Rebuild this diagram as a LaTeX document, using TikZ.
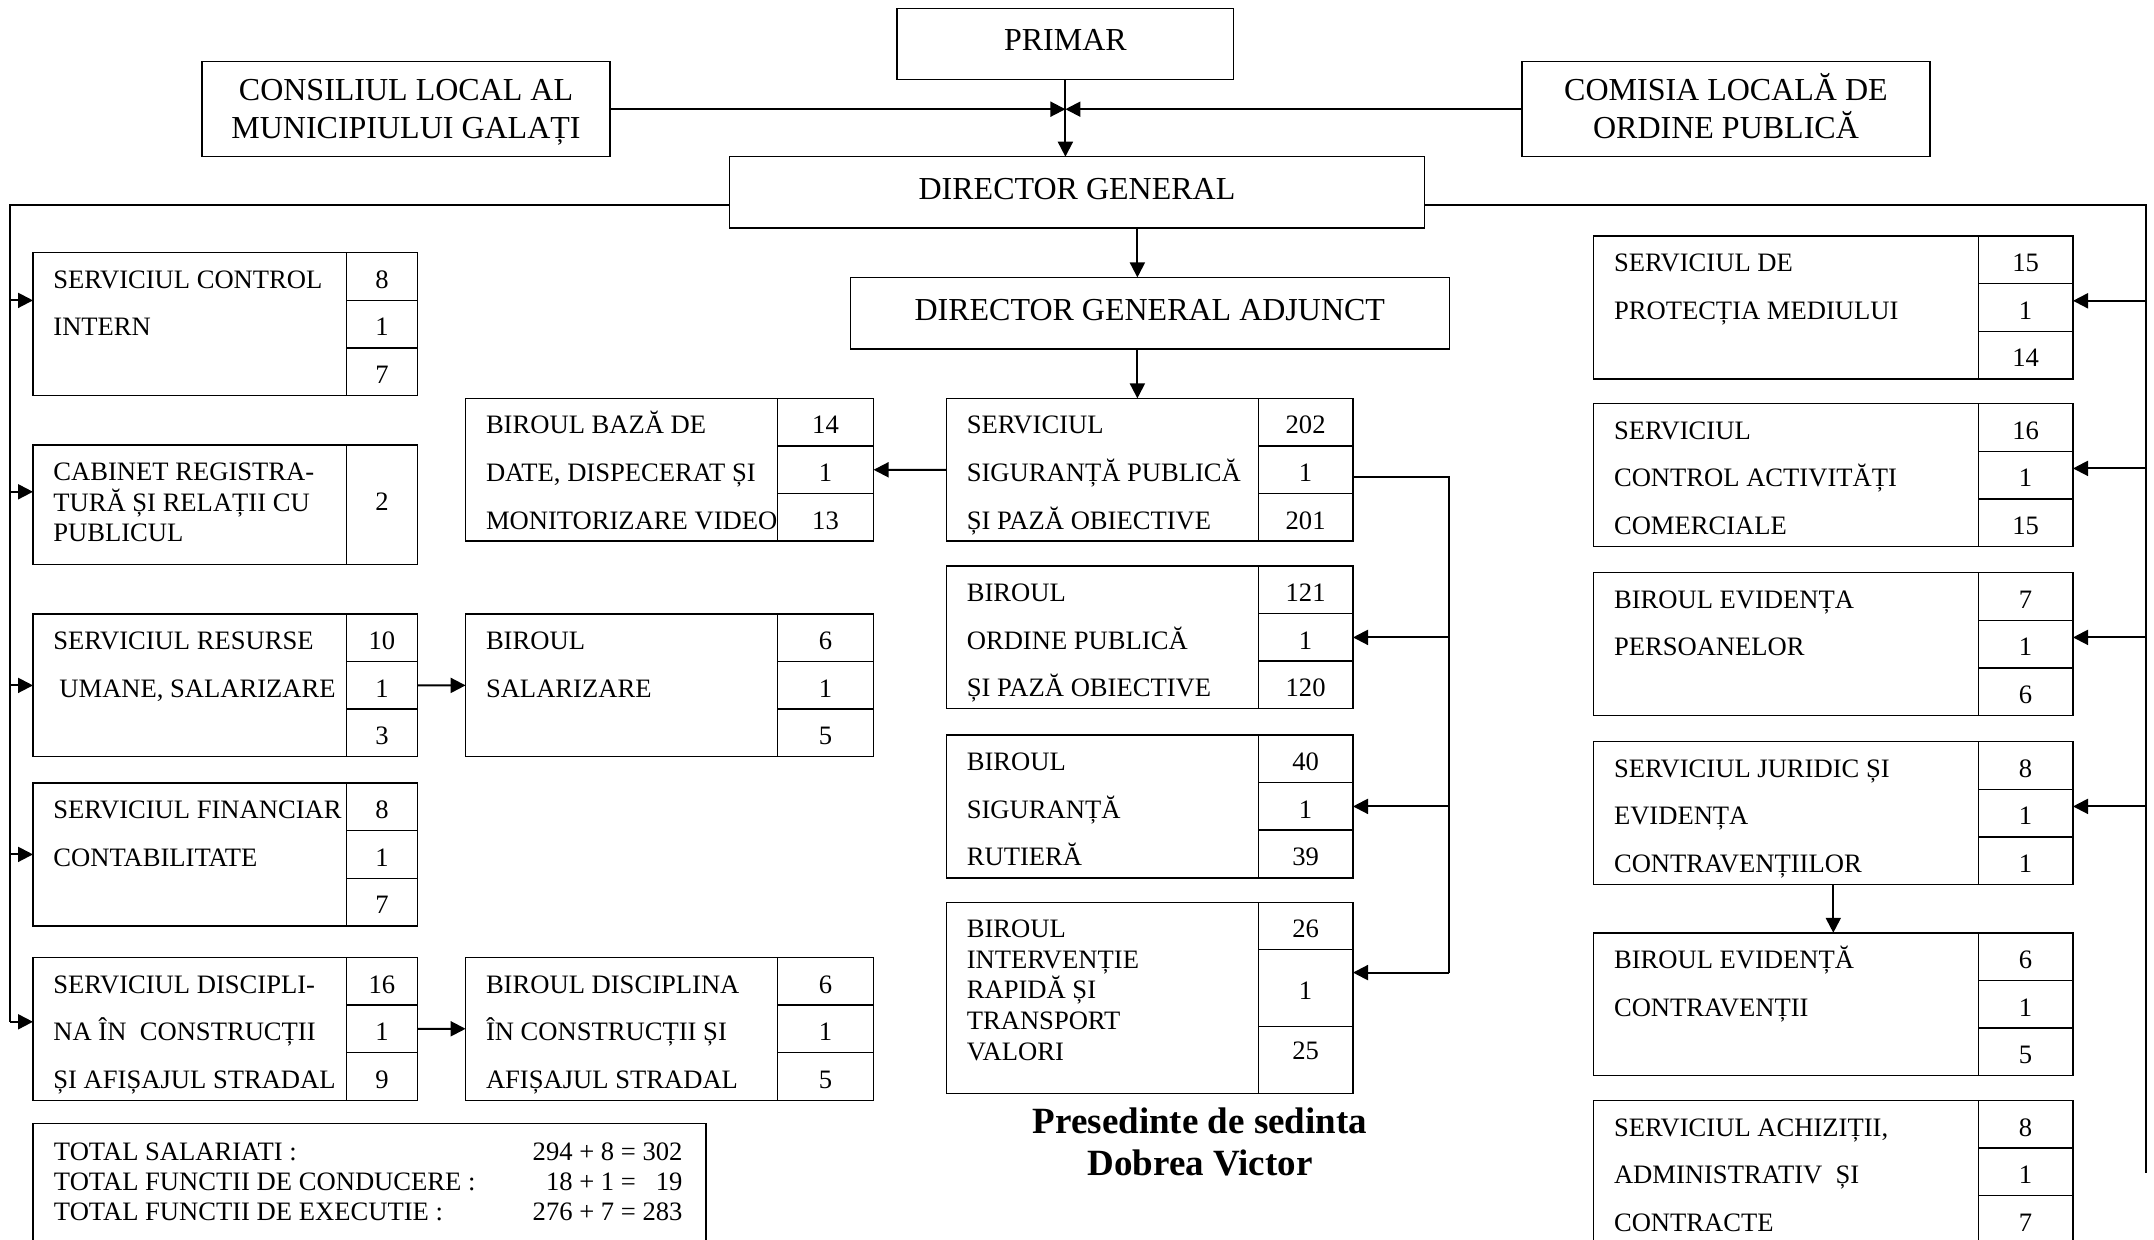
\documentclass[tikz,border=0pt]{standalone}
\usepackage{fontspec}
\setmainfont{Liberation Serif}
\usetikzlibrary{arrows.meta, calc, positioning}

\newcommand{\boxfont}{\fontsize{13.3}{15.3}\selectfont}
\newcommand{\headfont}{\fontsize{16}{19.3}\selectfont}

\tikzset{
  cell/.style={draw, line width=0.7pt, inner sep=0pt, outer sep=0pt, text height=11.8pt, text depth=0pt, font=\boxfont},
  head/.style={draw, line width=0.7pt, inner sep=0pt, outer sep=0pt, align=center, font=\headfont},
  onehead/.style={head, text height=11pt, text depth=4pt},
  txt/.style={inner sep=0pt, anchor=west, text height=11.8pt, text depth=0pt, font=\boxfont},
  line/.style={line width=1pt},
  arr/.style={line width=1pt, -{Triangle[length=7.5pt,width=7.5pt]}},
}

% box with name part and three number cells
\newcommand{\compart}[9]{%
  \node[cell, anchor=north west, minimum width=#4pt, minimum height=71.4pt] (#1) at (#2,#3) {};
  \node[cell, anchor=north west, minimum width=#5pt, minimum height=23.8pt] (#1-a) at (#1.north east) {#6};
  \node[cell, anchor=north west, minimum width=#5pt, minimum height=23.8pt] (#1-b) at (#1-a.south west) {#7};
  \node[cell, anchor=north west, minimum width=#5pt, minimum height=23.8pt] (#1-c) at (#1-b.south west) {#8};
  \foreach \txtline [count=\i] in {#9}
    \node[txt] (#1-l\i) at ({#2+10},{#3+(\i-0.5)*23.8}) {\txtline};
}

\begin{document}
\begin{tikzpicture}[x=1pt, y=-1pt]
\useasboundingbox (0,0) rectangle (1077,620);
\clip (0,0) rectangle (1077,620);

% top
\node[onehead, minimum width=168.3pt, minimum height=35.7pt] (primar) at (532.7,22) {PRIMAR};
\node[head, minimum width=204pt, minimum height=47.4pt] (consiliul) at (203,54.6) {\vphantom{ĂȚ}CONSILIUL LOCAL AL\\\vphantom{ĂȚ}MUNICIPIULUI GALAȚI};
\node[head, minimum width=204pt, minimum height=47.4pt] (comisia) at (863,54.6) {\vphantom{ĂȚ}COMISIA LOCALĂ DE\\\vphantom{ĂȚ}ORDINE PUBLICĂ};
\node[onehead, minimum width=347.6pt, minimum height=35.7pt] (dg) at (538.5,96.2) {DIRECTOR GENERAL};
\node[onehead, minimum width=299.4pt, minimum height=35.8pt] (dga) at (574.9,156.6) {DIRECTOR GENERAL ADJUNCT};

\draw[arr] (primar.south) -- (primar.south |- dg.north);
\draw[arr] (consiliul.east) -- (consiliul.east -| primar.south);
\draw[arr] (comisia.west) -- (comisia.west -| primar.south);

% left column
\compart{sci}{16.5}{126.4}{156.6}{35.7}{8}{1}{7}{SERVICIUL CONTROL, INTERN}
\node[cell, anchor=north west, minimum width=156.6pt, minimum height=59.8pt] (cab) at (16.5,222.5) {};
\node[cell, anchor=north west, minimum width=35.7pt, minimum height=59.8pt, text height=8.8pt, text depth=3.4pt] (cab-a) at (cab.north east) {2};
\foreach \txtline [count=\i] in {CABINET REGISTRA-, TURĂ ȘI RELAȚII CU, PUBLICUL}
  \node[txt] (cab-l\i) at ({16.5+10},{222.5+11.8+(\i-1)*15.4}) {\txtline};
\compart{sru}{16.5}{307}{156.6}{35.7}{10}{1}{3}{SERVICIUL RESURSE, {\hspace{3pt}UMANE, SALARIZARE}}
\compart{sfc}{16.5}{391.5}{156.6}{35.7}{8}{1}{7}{SERVICIUL FINANCIAR, CONTABILITATE}
\compart{sdc}{16.5}{478.7}{156.6}{35.7}{16}{1}{9}{SERVICIUL DISCIPLI-, NA ÎN~ CONSTRUCȚII, ȘI AFIȘAJUL STRADAL}

% second column
\compart{bbd}{232.8}{199.2}{155.9}{48.1}{14}{1}{13}{BIROUL BAZĂ DE, {DATE, DISPECERAT ȘI}, MONITORIZARE VIDEO}
\compart{bsal}{232.8}{307}{155.9}{48.1}{6}{1}{5}{BIROUL, SALARIZARE}
\compart{bdis}{232.8}{478.7}{155.9}{48.1}{6}{1}{5}{BIROUL DISCIPLINA, ÎN CONSTRUCȚII ȘI, AFIȘAJUL STRADAL}

% center column
\compart{ssp}{473.2}{199.2}{155.9}{47.4}{202}{1}{201}{SERVICIUL, SIGURANȚĂ PUBLICĂ, ȘI PAZĂ OBIECTIVE}
\compart{bop}{473.2}{283}{155.9}{47.4}{121}{1}{120}{BIROUL, ORDINE PUBLICĂ, ȘI PAZĂ OBIECTIVE}
\compart{bsr}{473.2}{367.5}{155.9}{47.4}{40}{1}{39}{BIROUL, SIGURANȚĂ, RUTIERĂ}
\node[cell, anchor=north west, minimum width=155.9pt, minimum height=95.4pt] (bir) at (473.2,451.3) {};
\node[cell, anchor=north west, minimum width=47.4pt, minimum height=23.3pt] (bir-a) at (bir.north east) {26};
\node[cell, anchor=north west, minimum width=47.4pt, minimum height=38.5pt] (bir-b) at (bir-a.south west) {1};
\node[cell, anchor=north west, minimum width=47.4pt, minimum height=33.6pt, text height=8.8pt, text depth=9pt] (bir-c) at (bir-b.south west) {25};
\foreach \txtline [count=\i] in {BIROUL, INTERVENȚIE, RAPIDĂ ȘI, TRANSPORT, VALORI}
  \node[txt] (bir-l\i) at ({473.2+10},{451.3+11.6+(\i-1)*15.3}) {\txtline};

% right column
\compart{spm}{796.8}{118.1}{192.3}{47.4}{15}{1}{14}{SERVICIUL DE, PROTECȚIA MEDIULUI}
\compart{sca}{796.8}{201.9}{192.3}{47.4}{16}{1}{15}{SERVICIUL, CONTROL ACTIVITĂȚI, COMERCIALE}
\compart{bep}{796.8}{286.4}{192.3}{47.4}{7}{1}{6}{BIROUL EVIDENȚA, PERSOANELOR}
\compart{sj}{796.8}{370.9}{192.3}{47.4}{8}{1}{1}{SERVICIUL JURIDIC ȘI, EVIDENȚA, CONTRAVENȚIILOR}
\compart{bec}{796.8}{466.4}{192.3}{47.4}{6}{1}{5}{BIROUL EVIDENȚĂ, CONTRAVENȚII}
\compart{sac}{796.8}{550.2}{192.3}{47.4}{8}{1}{7}{{SERVICIUL ACHIZIȚII,}, ADMINISTRATIV~ ȘI, CONTRACTE}

% buses
\coordinate (lbus) at (4.8,102.3);
\coordinate (rbus) at (1072.9,102.3);
\coordinate (rend) at (1072.9,586.6);
\coordinate (cbus) at (724.6,238.3);
\coordinate (ax) at (568.7,0);
\coordinate (bir-in) at ($(bir-b.north east)+(0,11.7)$);
\coordinate (cab-in) at ($(cab.west)+(0,-6.5)$);
\coordinate (sdc-in) at ($(sdc.west)+(0,-3.5)$);

\draw[arr] (dg.south -| ax) -- (dga.north -| ax);
\draw[arr] (dga.south -| ax) -- (ssp.north -| ax);

\draw[line] (dg.west |- lbus) -- (lbus) -- (lbus |- sdc-in);
\draw[arr] (lbus |- sci-a.south) -- (sci.west |- sci-a.south);
\draw[arr] (lbus |- cab-in) -- (cab-in);
\draw[arr] (lbus |- sru.west) -- (sru.west);
\draw[arr] (lbus |- sfc.west) -- (sfc.west);
\draw[arr] (lbus |- sdc-in) -- (sdc-in);

\draw[arr] (ssp.west) -- (bbd-b.east);
\draw[arr] (sru-b.east) -- (bsal.west);
\draw[arr] (sdc-b.east) -- (bdis.west);

\draw[line] (ssp-b.east |- cbus) -- (cbus) -- (cbus |- bir-in);
\draw[arr] (cbus |- bop-b.east) -- (bop-b.east);
\draw[arr] (cbus |- bsr-b.east) -- (bsr-b.east);
\draw[arr] (cbus |- bir-in) -- (bir-in);

\draw[line] (dg.east |- rbus) -- (rbus) -- (rend);
\foreach \b in {spm, sca, bep, sj}
  \draw[arr] ($(rbus |- \b-b.east)+(0,-3.4)$) -- ($(\b-b.east)+(0,-3.4)$);
\draw[arr] ($(sj.south west)!.5!(sj-c.south east)$) -- ($(bec.north west)!.5!(bec-a.north east)$);

% signature
\node[align=center, font=\fontsize{18.5}{21.3}\selectfont\bfseries] (pres) at (600,571) {Presedinte de sedinta\\Dobrea Victor};

% totals
\node[cell, anchor=north west, minimum width=336.5pt, minimum height=80pt] (total) at (16.5,561.8) {};
\foreach \lab/\val [count=\i] in {TOTAL SALARIATI :/294 + 8 = 302, TOTAL FUNCTII DE CONDUCERE :/18 + 1 = \hphantom{0}19, TOTAL FUNCTII DE EXECUTIE :/276 + 7 = 283} {
  \node[txt] (tot\i) at ({16.5+10.3},{574.1+(\i-1)*15.1}) {\lab};
  \node[txt, anchor=east] (val\i) at ({341.4},{574.1+(\i-1)*15.1}) {\val};
}
\end{tikzpicture}
\end{document}
